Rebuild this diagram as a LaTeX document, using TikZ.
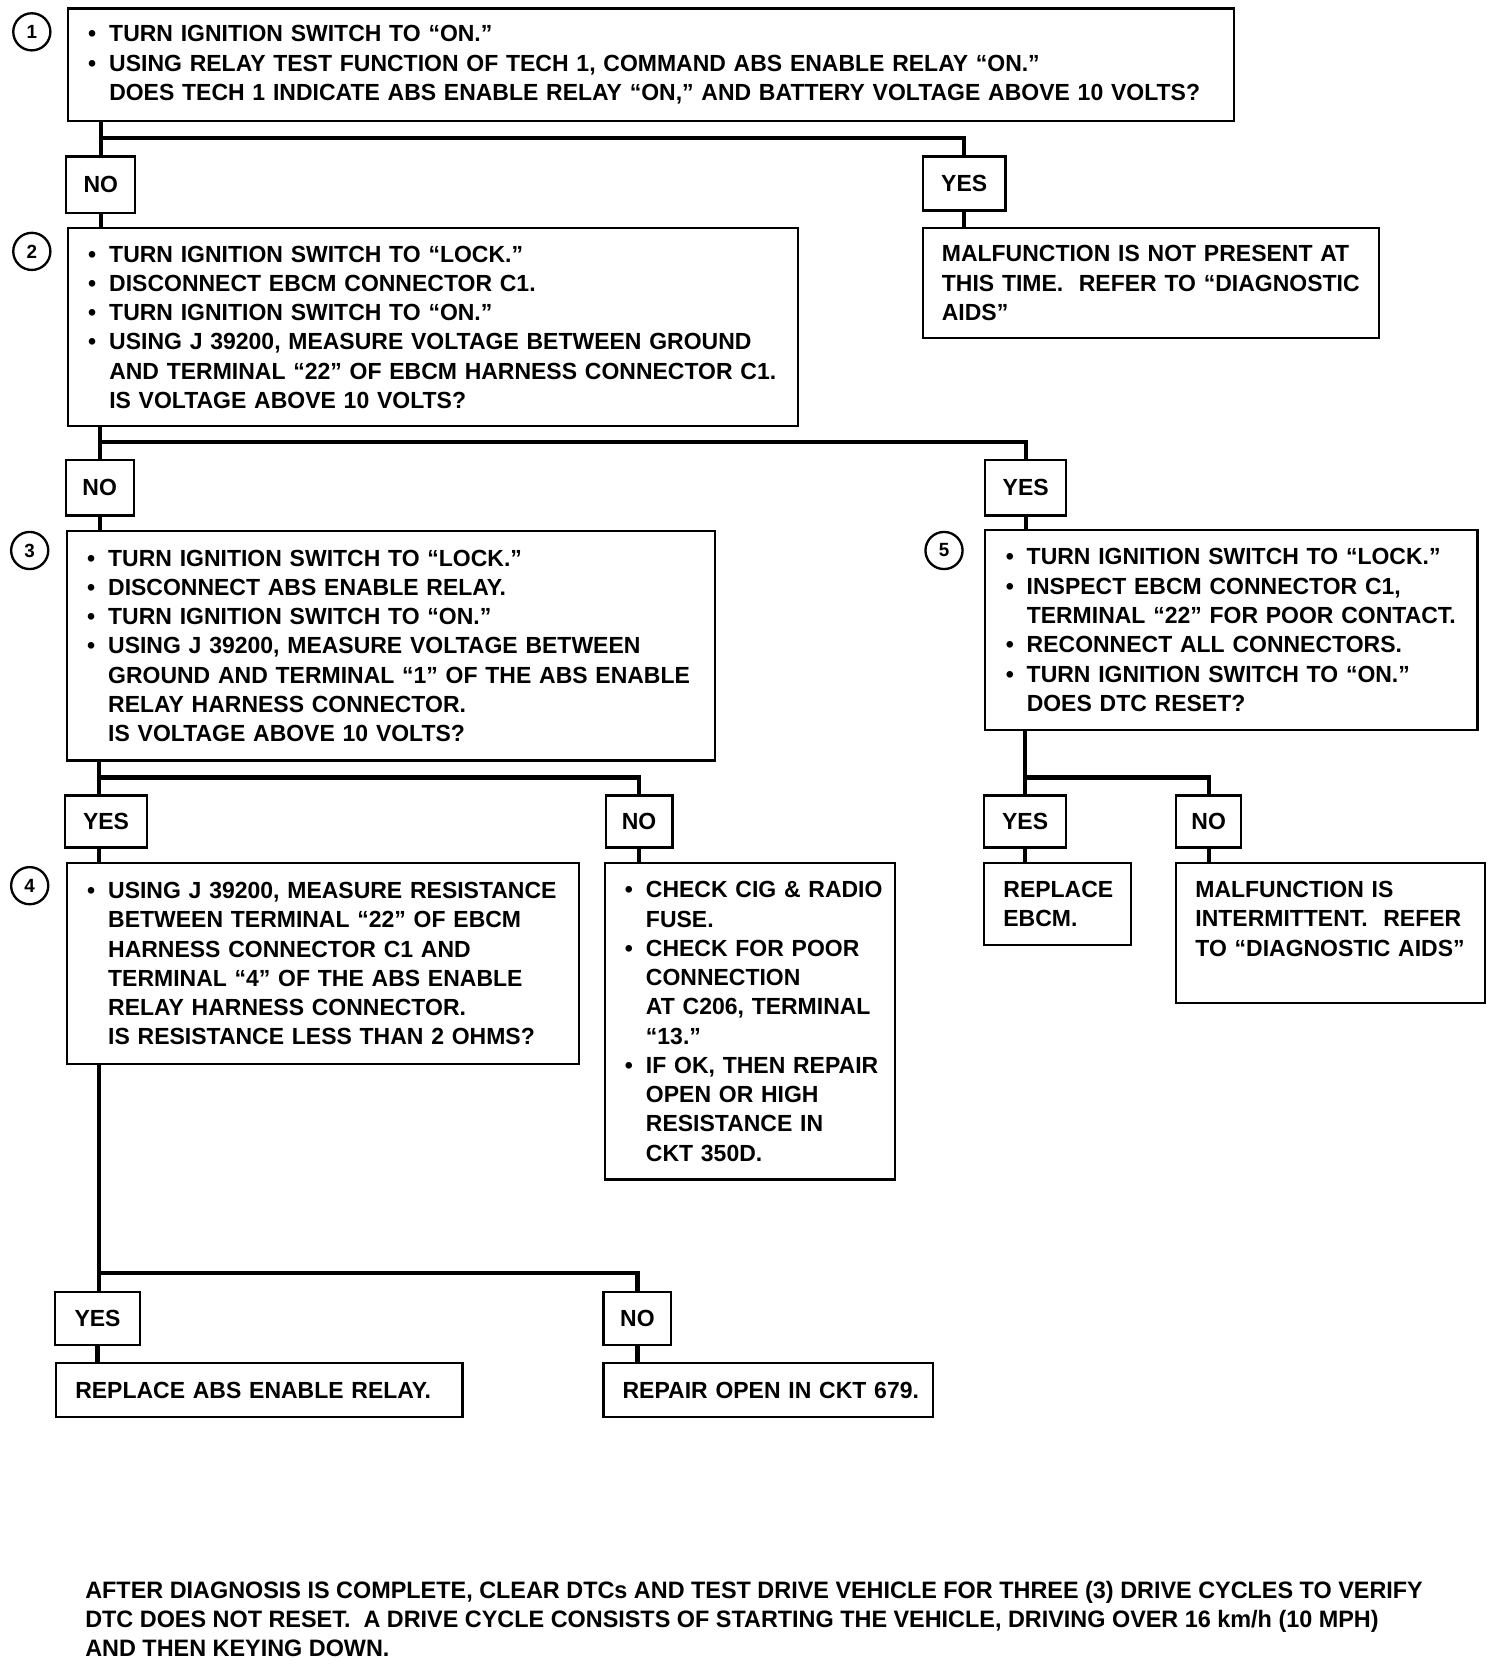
\documentclass[tikz,border=0pt]{standalone}
\usepackage{fontspec}
\usetikzlibrary{calc}
\newfontfamily\mfam{Liberation Sans Bold}[FakeStretch=0.985]
\newcommand\mf{\mfam\fontsize{11}{13.8}\selectfont}
\newcommand\notefont{\mfam\fontsize{11.2}{13.75}\selectfont}
\newlength\bw
\setlength\bw{10.5pt}
\newcommand\bl[1]{\makebox[\bw][l]{\hspace{0.6pt}\textbullet}\mbox{#1}}
\newcommand\cl[1]{\hspace*{\bw}\mbox{#1}}
\newcommand\pl[1]{\mbox{#1}}
\tikzset{
  box/.style={draw, line width=1pt, anchor=north west, inner xsep=9pt, inner ysep=0pt, align=left, font=\mf},
  lab/.style={draw, line width=1pt, inner sep=0pt, font=\mf},
  conn/.style={line width=2pt},
  num/.style={circle, draw, line width=1.1pt, minimum size=17.5pt, inner sep=0pt, font=\mfam\fontsize{9}{10}\selectfont},
}
\begin{document}
\begin{tikzpicture}[x=0.5pt, y=-0.5pt]
\useasboundingbox (0,0) rectangle (1418,1568.8);
% step numbers
\node[num] (c1) at (30,30) {1};
\node[num] (c2) at (30,237) {2};
\node[num] (c3) at (28,519) {3};
\node[num] (c5) at (890,519) {5};
\node[num] (c4) at (28,835) {4};
% boxes
\node[box, text width=531.5pt, minimum height=53pt] (b1) at (63,7) {%
\bl{TURN IGNITION SWITCH TO “ON.”}\\
\bl{USING RELAY TEST FUNCTION OF TECH 1, COMMAND ABS ENABLE RELAY “ON.”}\\
\cl{DOES TECH 1 INDICATE ABS ENABLE RELAY “ON,” AND BATTERY VOLTAGE ABOVE 10 VOLTS?}};
\node[lab, minimum width=32.5pt, minimum height=26.5pt] (no1) at (95,174) {NO};
\node[lab, minimum width=39pt, minimum height=25.5pt] (yes1) at (909,173) {YES};
\node[box, text width=326pt, minimum height=93.5pt] (b2) at (63,214) {%
\bl{TURN IGNITION SWITCH TO “LOCK.”}\\
\bl{DISCONNECT EBCM CONNECTOR C1.}\\
\bl{TURN IGNITION SWITCH TO “ON.”}\\
\bl{USING J 39200, MEASURE VOLTAGE BETWEEN GROUND}\\
\cl{AND TERMINAL “22” OF EBCM HARNESS CONNECTOR C1.}\\
\cl{IS VOLTAGE ABOVE 10 VOLTS?}};
\node[box, text width=197pt, minimum height=52pt] (m1) at (869,214) {%
\pl{MALFUNCTION IS NOT PRESENT AT}\\
\pl{THIS TIME.\ \ REFER TO “DIAGNOSTIC}\\
\pl{AIDS”}};
\node[lab, minimum width=32pt, minimum height=26pt] (no2) at (94,460) {NO};
\node[lab, minimum width=38pt, minimum height=26pt] (yes2) at (967,460) {YES};
\node[box, text width=287.5pt, minimum height=108pt] (b3) at (62,500) {%
\bl{TURN IGNITION SWITCH TO “LOCK.”}\\
\bl{DISCONNECT ABS ENABLE RELAY.}\\
\bl{TURN IGNITION SWITCH TO “ON.”}\\
\bl{USING J 39200, MEASURE VOLTAGE BETWEEN}\\
\cl{GROUND AND TERMINAL “1” OF THE ABS ENABLE}\\
\cl{RELAY HARNESS CONNECTOR.}\\
\cl{IS VOLTAGE ABOVE 10 VOLTS?}};
\node[box, text width=214pt, minimum height=94pt] (b5) at (928,499) {%
\bl{TURN IGNITION SWITCH TO “LOCK.”}\\
\bl{INSPECT EBCM CONNECTOR C1,}\\
\cl{TERMINAL “22” FOR POOR CONTACT.}\\
\bl{RECONNECT ALL CONNECTORS.}\\
\bl{TURN IGNITION SWITCH TO “ON.”}\\
\cl{DOES DTC RESET?}};
\node[lab, minimum width=39pt, minimum height=24.5pt] (yes3) at (100,774.5) {YES};
\node[lab, minimum width=31.5pt, minimum height=24.5pt] (no3) at (602.5,774.5) {NO};
\node[lab, minimum width=38.5pt, minimum height=24.5pt] (yes5) at (966.5,774.5) {YES};
\node[lab, minimum width=30.5pt, minimum height=24.5pt] (no5) at (1139.5,774.5) {NO};
\node[box, text width=223.5pt, minimum height=94.5pt] (b4) at (62,813) {%
\bl{USING J 39200, MEASURE RESISTANCE}\\
\cl{BETWEEN TERMINAL “22” OF EBCM}\\
\cl{HARNESS CONNECTOR C1 AND}\\
\cl{TERMINAL “4” OF THE ABS ENABLE}\\
\cl{RELAY HARNESS CONNECTOR.}\\
\cl{IS RESISTANCE LESS THAN 2 OHMS?}};
\node[box, text width=119pt, minimum height=149pt] (ck) at (569,813) {%
\bl{CHECK CIG \& RADIO}\\
\cl{FUSE.}\\
\bl{CHECK FOR POOR}\\
\cl{CONNECTION}\\
\cl{AT C206, TERMINAL}\\
\cl{“13.”}\\
\bl{IF OK, THEN REPAIR}\\
\cl{OPEN OR HIGH}\\
\cl{RESISTANCE IN}\\
\cl{CKT 350D.}};
\node[box, text width=51pt, minimum height=38.5pt] (r5) at (927,813) {%
\pl{REPLACE}\\
\pl{EBCM.}};
\node[box, text width=127.5pt, minimum height=66pt] (i5) at (1108,813) {%
\pl{MALFUNCTION IS}\\
\pl{INTERMITTENT.\ \ REFER}\\
\pl{TO “DIAGNOSTIC AIDS”}\\
\mbox{}};
\node[lab, minimum width=40pt, minimum height=25pt] (yes4) at (92,1243) {YES};
\node[lab, minimum width=32pt, minimum height=25pt] (no4) at (601,1243) {NO};
\node[box, text width=173.5pt, minimum height=25.5pt] (rl) at (52,1284) {%
\pl{REPLACE ABS ENABLE RELAY.}};
\node[box, text width=137.5pt, minimum height=25.5pt] (rp) at (568,1284) {%
\pl{REPAIR OPEN IN CKT 679.}};
% bottom note
\node[anchor=north west, inner sep=0pt, align=left, font=\notefont] (note) at (80,1490) {%
AFTER DIAGNOSIS IS COMPLETE, CLEAR DTCs AND TEST DRIVE VEHICLE FOR THREE (3) DRIVE CYCLES TO VERIFY\\
DTC DOES NOT RESET.\ \ A DRIVE CYCLE CONSISTS OF STARTING THE VEHICLE, DRIVING OVER 16 km/h (10 MPH)\\
AND THEN KEYING DOWN.};
% junction levels
\coordinate (h1) at (0,130);
\coordinate (h2) at (0,417);
\coordinate (h3) at (0,733);
\coordinate (h4) at (0,1200);
\coordinate (a3) at ($(b3.south west)+(31,0)$);
\coordinate (a4) at ($(b4.south west)+(31,0)$);
% connectors
\draw[conn] (no1.north |- b1.south) -- (no1.north);
\draw[conn] (no1.north |- h1) -| (yes1.north);
\draw[conn] (no1.south) -- (no1.south |- b2.north);
\draw[conn] (yes1.south) -- (yes1.south |- m1.north);
\draw[conn] (no2.north |- b2.south) -- (no2.north);
\draw[conn] (no2.north |- h2) -| (yes2.north);
\draw[conn] (no2.south) -- (no2.south |- b3.north);
\draw[conn] (yes2.south) -- (yes2.south |- b5.north);
\draw[conn] (a3) -- (a3 |- yes3.north);
\draw[conn] (a3 |- h3) -| (no3.north);
\draw[conn] (a3 |- yes3.south) -- (a3 |- b4.north);
\draw[conn] (no3.south) -- (no3.south |- ck.north);
\draw[conn] (yes5.north |- b5.south) -- (yes5.north);
\draw[conn] (yes5.north |- h3) -| (no5.north);
\draw[conn] (yes5.south) -- (yes5.south |- r5.north);
\draw[conn] (no5.south) -- (no5.south |- i5.north);
\draw[conn] (a4) -- (a4 |- yes4.north);
\draw[conn] (a4 |- h4) -| (no4.north);
\draw[conn] (yes4.south) -- (yes4.south |- rl.north);
\draw[conn] (no4.south) -- (no4.south |- rp.north);
\end{tikzpicture}
\end{document}
